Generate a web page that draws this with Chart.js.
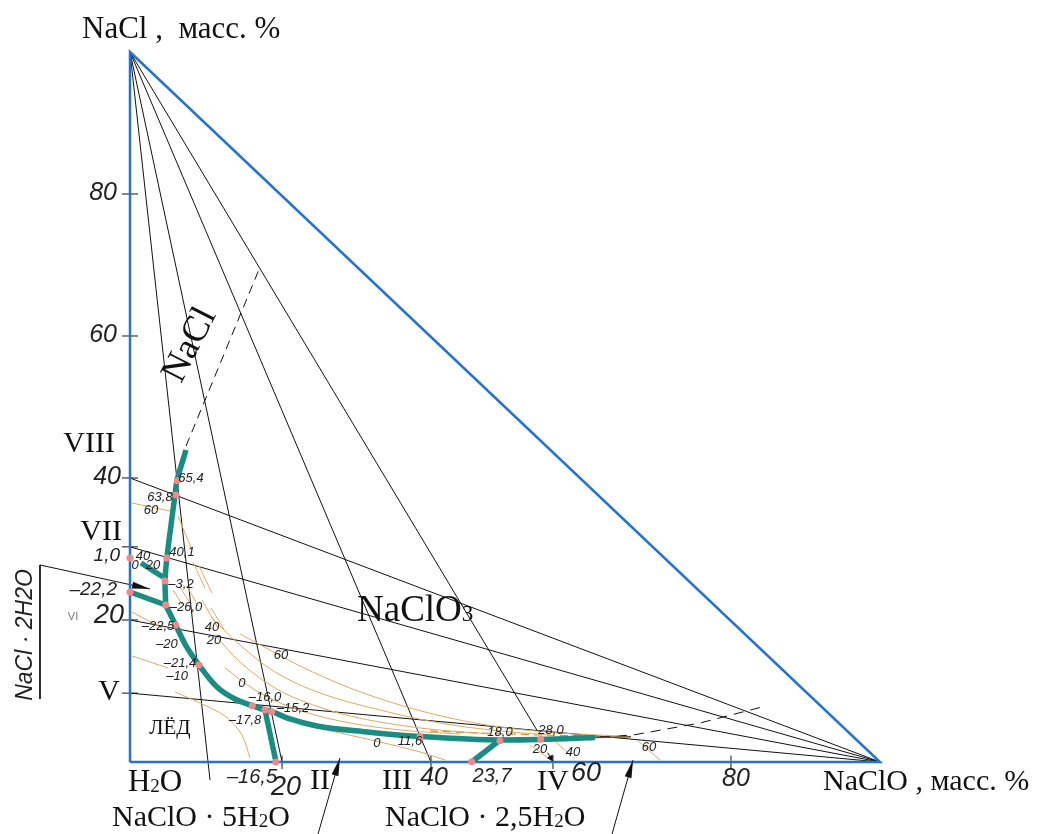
<!DOCTYPE html>
<html><head><meta charset="utf-8">
<script src="https://cdn.jsdelivr.net/npm/chart.js@4.4.0/dist/chart.umd.min.js"></script>
<style>html,body{margin:0;padding:0;background:#fff;}#wrap{width:1057px;height:834px;position:relative;}</style>
</head><body><div id="wrap"><canvas id="c"></canvas></div>
<script>
// ===== DATA (mass %, x = NaClO, y = NaCl) =====
const triangle = [[0,0],[0,100],[100,0],[0,0]];
const apexNaCl = [0,100];
const apexNaClO = [100,0];
const tieEndsFromNaCl = [[10.67,-2.54],[20.27,0],[40.13,0],[54.3,4.4]];
const tieEndsFromNaClO = [[0,40],[0,30.3],[0,20],[0,9.7]];
const curveNaCl = [[7.47,43.94],[6.27,39.72],[6.0,37.61],[5.47,33.38],[4.93,28.87],[4.67,25.49],[4.76,22.11]];
const curveMain = [[4.76,22.11],[6.09,19.30],[7.47,16.34],[9.2,13.66],[11.6,10.56],[14.0,8.87],[16.31,7.93],[18.0,7.32],[18.89,7.08],[21.33,6.06],[24.93,5.07],[31.6,4.23],[38.67,3.59],[49.33,3.10],[54.67,3.17],[62.0,3.45]];
const curveIceNaCl2H2O = [[0,23.94],[4.76,22.11]];
const curveShort = [[1.47,28.03],[4.4,26.06]];
const curveIce5H2O = [[18.0,7.32],[19.47,0]];
const curve5H2O25H2O = [[49.33,3.10],[45.56,0]];
const invariantPoints = [[6.31,39.62],[6.13,37.61],[4.89,28.73],[4.67,25.49],[0,28.73],[0,23.94],[4.76,22.11],[6.09,19.30],[9.2,13.66],[16.31,7.93],[18.0,7.32],[18.89,7.08],[19.43,0],[38.67,3.56],[49.33,3.0],[54.76,3.2],[45.56,0.04]];
const dashNaCl = [[7.47,44.5],[17.33,69.7]];
const dashRight = [[62.67,3.52],[67.07,3.8],[76,5.49],[84.27,7.75]];
const brownSeg = [[62.0,3.45],[66.8,3.55]];
const iso60 = [[14.67,18.03],[18.67,15.77],[22.67,13.52],[29.33,10.42],[36,8.03],[42.67,6.20],[49.33,4.93],[57.33,4.08],[65.33,3.66]];
const iso40 = [[10.93,20.28],[14.67,16.48],[19.33,12.68],[25.33,9.72],[33.33,7.32],[41.33,5.49],[49.33,4.37],[56,3.8]];
const iso20 = [[11.33,17.89],[14.67,14.08],[18.67,10.85],[22.67,8.73],[29.33,6.48],[38.67,4.79],[48,3.94]];
const iso0 = [[12.67,13.24],[16.67,10.14],[21.33,7.75],[28,5.77],[36,4.51],[44,3.94]];
const isoDashed = [[40,4.37],[46.67,4.08],[54.67,3.8],[62.67,3.66]];
const isoShort = [
  [[5.73,24.23],[6.93,22.25]], [[6.67,24.65],[8.0,22.39]], [[7.73,24.51],[9.07,21.97]],
  [[8.4,28.17],[10.0,24.51]], [[9.2,27.61],[10.93,23.8]], [[9.6,22.82],[11.73,18.87]],
  [[10.8,21.69],[12.53,18.73]], [[0.27,36.48],[5.33,35.35]], [[6.4,34.65],[8.27,29.86]],
  [[0.27,21.13],[4.27,18.87]], [[0.27,14.93],[5.07,13.24]],
  [[6,9.86],[9.33,8.31],[12.67,6.48],[14.93,3.8],[16,0.56]],
  [[22.67,5.35],[28,4.08],[33.33,2.82],[38.67,1.41],[42,0.28]],
  [[53.33,2.39],[55.6,0.7]], [[56.8,2.82],[58.67,0.99]], [[67.6,3.1],[70.67,0.28]]
];
const yTickValues = [80,60,40,30.3,20,9.7];
const xTickValues = [20.27,40.13,56.4,80.13];
const arrows = [
  [[-12,27.75],[2.67,24.37]],
  [[25.07,-10.14],[28,0.56]],
  [[64.27,-10.14],[67.07,0.28]],
  [[55.7,1.3],[56.35,0.1]]
];
const bar2H2O = [[-12,27.75],[-12,8.87]];

// ===== LAYOUT =====
const XMIN=-17.333, XMAX=123.6, YMIN=-10.141, YMAX=107.324;
const BLUE='#2472d2', TEAL='#1a8c82', PINK='#ee8a8a', TAN='#dcaa5e', INK='#111';
const P = a => a.map(p=>({x:p[0],y:p[1]}));
function line(pts,color,width,opts){
  return Object.assign({data:P(pts),showLine:true,borderColor:color,borderWidth:width,pointRadius:0,fill:false,tension:0,order:5},opts||{});
}
const ds=[];
ds.push(line(triangle,BLUE,2.5,{order:3}));
tieEndsFromNaCl.forEach(e=>ds.push(line([apexNaCl,e],INK,1,{order:6})));
tieEndsFromNaClO.forEach(e=>ds.push(line([apexNaClO,e],INK,1,{order:6})));
ds.push(line(dashNaCl,INK,1,{borderDash:[9,6],order:6}));
ds.push(line(dashRight,INK,1,{borderDash:[10,7],order:6}));
ds.push(line(brownSeg,'#6b4a1e',1.6,{order:4}));
[iso60,iso40,iso20,iso0].forEach(a=>ds.push(line(a,TAN,1,{tension:0.35,order:5})));
ds.push(line(isoDashed,'#d8902e',1.2,{borderDash:[8,5],order:5}));
isoShort.forEach(a=>ds.push(line(a,TAN,1,{tension:0.3,order:5})));
yTickValues.forEach(v=>ds.push(line([[-1.07,v],[1.07,v]],INK,1,{order:6})));
xTickValues.forEach(v=>ds.push(line([[v,-1.0],[v,0.9]],INK,1,{order:6})));
arrows.forEach(a=>ds.push(line(a,INK,1,{order:6,arrowHead:true})));
ds.push(line(bar2H2O,INK,1,{order:6}));
ds.push(line(curveNaCl,TEAL,5.5,{order:2,tension:0.2}));
ds.push(line(curveMain,TEAL,5.5,{order:2,cubicInterpolationMode:'monotone'}));
ds.push(line(curveIceNaCl2H2O,TEAL,5.5,{order:2}));
ds.push(line(curveShort,TEAL,5.5,{order:2}));
ds.push(line(curveIce5H2O,TEAL,5.5,{order:2}));
ds.push(line(curve5H2O25H2O,TEAL,5.5,{order:2}));
ds.push({data:P(invariantPoints),showLine:false,pointRadius:3.5,pointBackgroundColor:PINK,pointBorderWidth:0,order:1});

const SERIF='"Liberation Serif", "Times New Roman", serif';
const TECH='"Liberation Sans", Arial, sans-serif';
const serifLabels=[
  {t:'NaCl ,  масс. %', x:-6.4, y:103.1, s:31, a:'left'},
  {t:'NaClO , масс. %', x:92.4, y:-2.82, s:30, a:'left'},
  {t:'H_2O', x:-0.27, y:-2.96, s:31, a:'left'},
  {t:'NaClO · 5H_2O', x:-2.4, y:-7.89, s:30, a:'left'},
  {t:'NaClO · 2,5H_2O', x:34, y:-7.89, s:30, a:'left'},
  {t:'II', x:24, y:-2.68, s:30, a:'left'},
  {t:'III', x:33.6, y:-2.68, s:30, a:'left'},
  {t:'IV', x:54.27, y:-2.82, s:30, a:'left'},
  {t:'V', x:-1.33, y:9.86, s:30, a:'right'},
  {t:'VII', x:-1.07, y:32.39, s:30, a:'right'},
  {t:'VIII', x:-2, y:44.79, s:30, a:'right'},
  {t:'NaClO_3', x:30.27, y:21.27, s:37, a:'left'},
  {t:'NaCl', x:8, y:58.73, s:37, a:'center', r:-63},
  {t:'ЛЁД', x:5.33, y:4.79, s:21, a:'center'}
];
const techLabels=[
  {t:'80', x:-1.73, y:80.1, s:25, a:'right'},
  {t:'60', x:-1.73, y:60.1, s:25, a:'right'},
  {t:'40', x:-1.2, y:40.1, s:25, a:'right'},
  {t:'1,0', x:-1.33, y:29.0, s:19, a:'right'},
  {t:'20', x:-0.8, y:20.6, s:27, a:'right'},
  {t:'–22,2', x:-1.73, y:24.23, s:19, a:'right'},
  {t:'20', x:20.8, y:-3.52, s:27, a:'center'},
  {t:'40', x:40.53, y:-2.25, s:25, a:'center'},
  {t:'60', x:60.8, y:-1.55, s:27, a:'center'},
  {t:'80', x:80.8, y:-2.39, s:25, a:'center'},
  {t:'–16,5', x:16.27, y:-2.11, s:20, a:'center'},
  {t:'23,7', x:48.27, y:-1.97, s:20, a:'center'},
  {t:'NaCl · 2H2O', x:-13.87, y:17.89, s:23, a:'center', r:-90},
  {t:'65,4',x:8.13,y:40.0},{t:'63,8',x:4,y:37.32},{t:'60',x:2.8,y:35.49},{t:'40,1',x:6.93,y:29.58},
  {t:'40',x:1.73,y:29.01},{t:'0',x:0.67,y:27.75},{t:'20',x:3.07,y:27.75},{t:'–3,2',x:6.8,y:25.07},
  {t:'–26,0',x:7.47,y:21.83},{t:'–22,5',x:3.73,y:19.15},{t:'–20',x:4.93,y:16.62},{t:'–21,4',x:6.67,y:13.94},
  {t:'–10',x:6.27,y:12.11},{t:'40',x:10.93,y:19.01},{t:'20',x:11.2,y:17.18},{t:'60',x:20.13,y:15.07},
  {t:'0',x:14.93,y:11.13},{t:'–16,0',x:18,y:9.15},{t:'–15,2',x:21.73,y:7.61},{t:'–17,8',x:15.33,y:5.92},
  {t:'0',x:32.93,y:2.68},{t:'11,6',x:37.33,y:2.96},{t:'18,0',x:49.33,y:4.23},{t:'28,0',x:56.13,y:4.51},
  {t:'20',x:54.67,y:1.83},{t:'40',x:59.07,y:1.41},{t:'60',x:69.2,y:2.11}
];

function drawRich(ctx,text,font,size,align){
  const segs=[]; const re=/_(\d+)/g; let last=0,m;
  while((m=re.exec(text))){ if(m.index>last) segs.push({t:text.slice(last,m.index),sm:false}); segs.push({t:m[1],sm:true}); last=re.lastIndex; }
  if(last<text.length) segs.push({t:text.slice(last),sm:false});
  let w=0; segs.forEach(sg=>{ctx.font=(sg.sm?Math.round(size*0.62):size)+'px '+font; sg.w=ctx.measureText(sg.t).width; w+=sg.w;});
  let x0 = align==='left'?0:(align==='right'?-w:-w/2);
  segs.forEach(sg=>{ctx.font=(sg.sm?Math.round(size*0.62):size)+'px '+font; ctx.fillText(sg.t,x0,sg.sm?size*0.12:0); x0+=sg.w;});
}

const annot={id:'annot',
  afterDatasetsDraw(chart){
    const ctx=chart.ctx, xs=chart.scales.x, ys=chart.scales.y;
    ctx.save();
    chart.data.datasets.forEach(d=>{
      if(!d.arrowHead) return;
      const n=d.data.length, a=d.data[n-2], b=d.data[n-1];
      const x1=xs.getPixelForValue(a.x), y1=ys.getPixelForValue(a.y), x2=xs.getPixelForValue(b.x), y2=ys.getPixelForValue(b.y);
      const ang=Math.atan2(y2-y1,x2-x1), L=Math.min(18,Math.hypot(x2-x1,y2-y1)*0.6), W=3.5;
      ctx.fillStyle=INK; ctx.beginPath();
      ctx.moveTo(x2,y2);
      ctx.lineTo(x2-L*Math.cos(ang)+W*Math.sin(ang), y2-L*Math.sin(ang)-W*Math.cos(ang));
      ctx.lineTo(x2-L*Math.cos(ang)-W*Math.sin(ang), y2-L*Math.sin(ang)+W*Math.cos(ang));
      ctx.closePath(); ctx.fill();
    });
    ctx.textBaseline='middle';
    serifLabels.forEach(l=>{
      ctx.save(); ctx.translate(xs.getPixelForValue(l.x), ys.getPixelForValue(l.y));
      if(l.r) ctx.rotate(l.r*Math.PI/180);
      ctx.fillStyle=INK; ctx.textAlign='left';
      drawRich(ctx,l.t,SERIF,l.s,l.a);
      ctx.restore();
    });
    techLabels.forEach(l=>{
      ctx.save(); ctx.translate(xs.getPixelForValue(l.x), ys.getPixelForValue(l.y));
      if(l.r) ctx.rotate(l.r*Math.PI/180);
      ctx.fillStyle='#222';
      ctx.font='italic '+(l.s||13)+'px '+TECH;
      ctx.textAlign=l.a||'center';
      ctx.fillText(l.t,0,0);
      ctx.restore();
    });
    ctx.fillStyle='#777'; ctx.font='11px '+TECH; ctx.textAlign='center';
    ctx.fillText('VI', xs.getPixelForValue(-7.6), ys.getPixelForValue(20.42));
    ctx.restore();
  }
};

new Chart(document.getElementById('c'),{
  type:'scatter',
  data:{datasets:ds},
  options:{
    animation:false,responsive:true,maintainAspectRatio:false,
    layout:{padding:0,autoPadding:false},
    plugins:{legend:{display:false},tooltip:{enabled:false},title:{display:false}},
    scales:{
      x:{type:'linear',min:XMIN,max:XMAX,display:false},
      y:{type:'linear',min:YMIN,max:YMAX,display:false}
    }
  },
  plugins:[annot]
});
</script></body></html>
